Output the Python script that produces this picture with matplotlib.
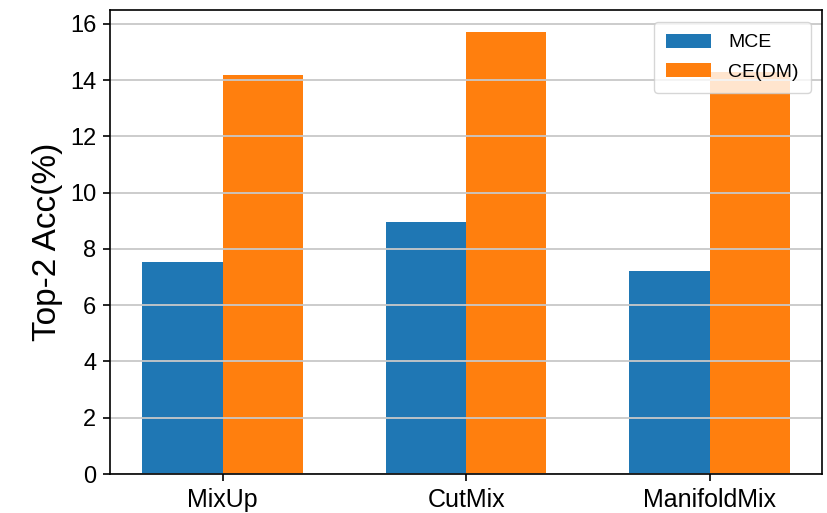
import numpy as np
import matplotlib
matplotlib.use("Agg")
import matplotlib.pyplot as plt

plt.rcParams['font.family'] = ['Liberation Sans', 'DejaVu Sans']

methods = ["MixUp", "CutMix", "ManifoldMix"]
mce = [7.55, 8.95, 7.22]
ce_dm = [14.2, 15.7, 14.28]

x = np.arange(len(methods))
width = 0.33

fig = plt.figure(figsize=(8.28, 5.13), dpi=100)
ax = fig.add_axes([0.133, 0.076, 0.860, 0.904])

ax.bar(x - width / 2, mce, width, label="MCE", color="#1f77b4")
ax.bar(x + width / 2, ce_dm, width, label="CE(DM)", color="#ff7f0e")

ax.grid(axis="y", color="#c8c8c8", linewidth=1.3)
ax.set_xticks(x)
ax.set_xticklabels(methods, fontsize=18)
ax.tick_params(axis="y", labelsize=17, length=5, width=1.2, pad=5)
ax.tick_params(axis="x", length=5, width=1.2, pad=5)
ax.set_ylabel("Top-2 Acc(%)", fontsize=24, labelpad=5)
for s in ax.spines.values():
    s.set_linewidth(1.2)

ax.legend(loc="upper right", fontsize=14, handlelength=2.3,
          handleheight=0.75, labelspacing=0.6, borderpad=0.6,
          handletextpad=0.9, borderaxespad=0.6)

fig.savefig("out.png", dpi=100)
